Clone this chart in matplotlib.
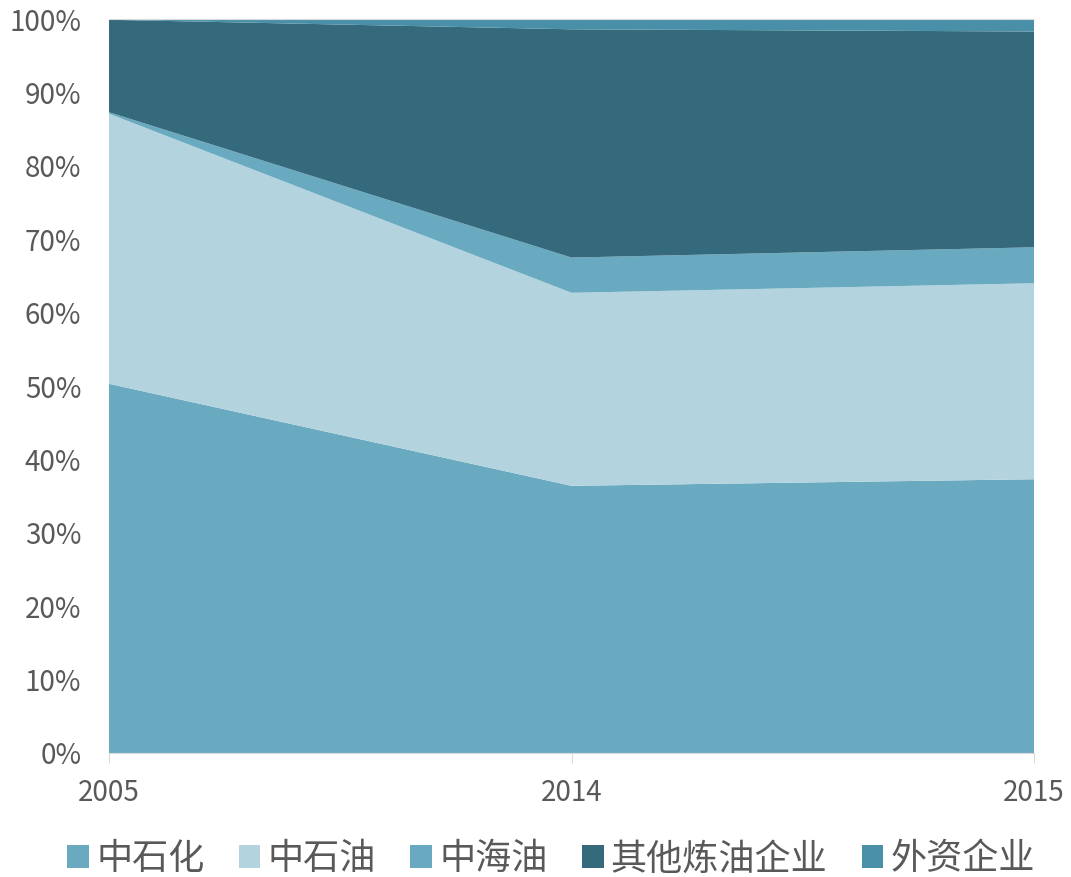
import matplotlib.pyplot as plt
from matplotlib.ticker import FuncFormatter

plt.rcParams['font.family'] = ['Noto Sans CJK SC', 'DejaVu Sans']

# donnees (%)
annees = ['2005', '2014', '2015']
sinopec = [50.3, 36.4, 37.3]
petrochina = [36.8, 26.3, 26.7]
cnooc = [0.2, 4.8, 4.9]
autres = [12.6, 31.1, 29.4]
etrangers = [0.1, 1.4, 1.7]

noms = ['中石化', '中石油', '中海油', '其他炼油企业', '外资企业']
couleurs = ['#6AAAC0', '#B3D4DF', '#6AAAC0', '#356A7C', '#4A8FA8']

fig = plt.figure(figsize=(10.71, 8.77), dpi=100)
ax = fig.add_axes([0.1018, 0.1414, 0.8637, 0.8369])

x = list(range(len(annees)))
ax.stackplot(x, sinopec, petrochina, cnooc, autres, etrangers,
             labels=noms, colors=couleurs, linewidth=0)

ax.set_xlim(0, 2)
ax.set_ylim(0, 100)
ax.set_yticks(range(0, 101, 10))
ax.yaxis.set_major_formatter(FuncFormatter(lambda v, p: f'{int(v)}%'))
ax.set_xticks(x)
ax.set_xticklabels(annees)

for s in ['left', 'right']:
    ax.spines[s].set_visible(False)
ax.spines['top'].set_color('#D9D9D9')
ax.spines['bottom'].set_color('#D9D9D9')
ax.tick_params(axis='y', length=0, labelsize=20, labelcolor='#595959', pad=20)
ax.tick_params(axis='x', length=7, color='#D9D9D9', labelsize=20,
               labelcolor='#595959', pad=11)

ax.legend(loc='center', bbox_to_anchor=(0.478, -0.145), ncol=5,
          frameon=False, fontsize=26, labelcolor='#595959',
          handlelength=0.6, handleheight=0.6, handletextpad=0.2,
          columnspacing=0.95)

fig.savefig('out.png', dpi=100)
